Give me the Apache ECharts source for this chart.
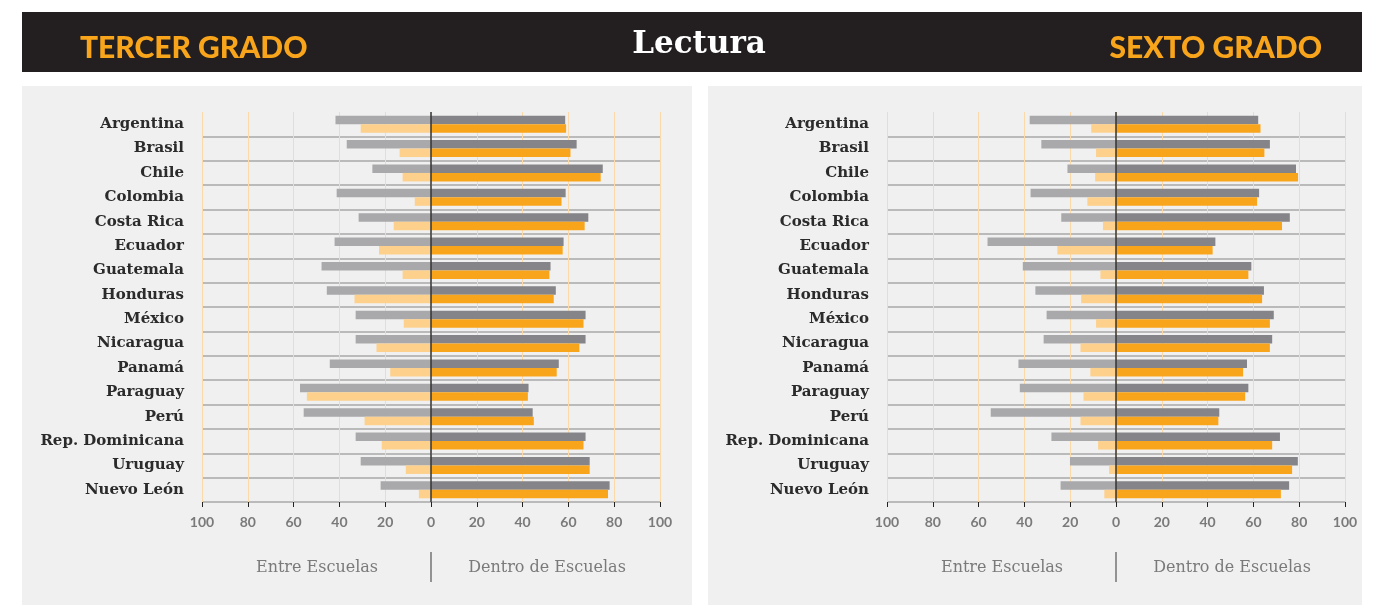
<!DOCTYPE html>
<html lang="es">
<head>
<meta charset="utf-8">
<style>
  html, body { margin: 0; padding: 0; background: #ffffff; }
  #container { width: 1383px; height: 605px; }
</style>
</head>
<body>
<div id="container"></div>
<script src="https://cdn.jsdelivr.net/npm/echarts@6/dist/echarts.min.js"></script>
<script>
var paises = ['Argentina', 'Brasil', 'Chile', 'Colombia', 'Costa Rica', 'Ecuador', 'Guatemala', 'Honduras',
  'México', 'Nicaragua', 'Panamá', 'Paraguay', 'Perú', 'Rep. Dominicana', 'Uruguay', 'Nuevo León'];

// tercer grado
var grisEntre3 = [41.7, 36.8, 25.6, 41.2, 31.6, 42.1, 47.8, 45.5, 32.9, 32.9, 44.2, 57.2, 55.6, 32.9, 30.7, 22.0];
var grisDentro3 = [58.6, 63.6, 75.0, 58.8, 68.7, 57.9, 52.2, 54.5, 67.5, 67.5, 55.8, 42.6, 44.4, 67.5, 69.3, 78.0];
var naranjaEntre3 = [30.7, 13.7, 12.4, 7.1, 16.3, 22.7, 12.4, 33.4, 11.9, 23.8, 17.8, 54.2, 29.0, 21.5, 11.0, 5.3];
var naranjaDentro3 = [59.0, 60.9, 74.1, 57.0, 67.1, 57.5, 51.7, 53.6, 66.6, 64.8, 54.9, 42.3, 44.9, 66.6, 69.3, 77.3];

// sexto grado
var grisEntre6 = [37.7, 32.6, 21.2, 37.3, 23.9, 56.1, 40.7, 35.2, 30.3, 31.6, 42.6, 42.0, 54.7, 28.2, 20.1, 24.2];
var grisDentro6 = [62.1, 67.2, 78.6, 62.5, 75.9, 43.4, 59.1, 64.6, 68.9, 68.2, 57.2, 57.8, 45.1, 71.6, 79.4, 75.6];
var naranjaEntre6 = [10.8, 8.7, 9.1, 12.5, 5.7, 25.6, 6.8, 15.2, 8.7, 15.5, 11.2, 14.2, 15.5, 7.8, 3.0, 5.1];
var naranjaDentro6 = [63.1, 64.8, 79.5, 61.6, 72.5, 42.2, 57.8, 63.8, 67.2, 67.2, 55.5, 56.4, 44.7, 68.2, 76.9, 72.0];

var colGrisClaro = '#a9a9ac', colGrisOscuro = '#858589';
var colNaranja = '#f9a51b', colNaranjaClaro = '#fdd08c';

function neg(arr) { return arr.map(function (v) { return -v; }); }

function barras(idx, entreG, dentroG, entreN, dentroN) {
  function s(data, stack, color) {
    return {
      type: 'bar', xAxisIndex: idx, yAxisIndex: idx, stack: stack + idx,
      data: data, barWidth: 8.5, barGap: '0%', silent: true,
      itemStyle: { color: color }
    };
  }
  var a = s(neg(entreG), 'g', colGrisClaro);
  // linea del cero
  a.markLine = {
    silent: true, symbol: 'none', label: { show: false },
    lineStyle: { color: '#333', width: 1.5, type: 'solid' },
    data: [{ xAxis: 0 }]
  };
  return [a, s(dentroG, 'g', colGrisOscuro), s(neg(entreN), 'n', colNaranjaClaro), s(dentroN, 'n', colNaranja)];
}

function ejeX(idx) {
  return {
    type: 'value', gridIndex: idx, min: -100, max: 100, interval: 20,
    axisLine: { lineStyle: { color: '#222', width: 1.5 } },
    axisTick: { show: true, length: 5, lineStyle: { color: '#222' } },
    axisLabel: {
      color: '#7a7a7a', fontFamily: 'Lato', fontWeight: 'bold', fontSize: 14, margin: 13,
      formatter: function (v) { return Math.abs(v); }
    },
    splitLine: { show: true, lineStyle: { color: '#fbd9a8', width: 1 } }
  };
}

function ejeY(idx) {
  return {
    type: 'category', gridIndex: idx, data: paises, inverse: true,
    axisLine: { show: false }, axisTick: { show: false },
    axisLabel: { color: '#2b2b2b', fontFamily: 'DejaVu Serif', fontWeight: 'bold', fontSize: 15, margin: 18 },
    splitLine: {
      show: true, lineStyle: { color: '#a8a8a8', width: 1.5 },
      interval: function (i) { return i !== 0; }
    }
  };
}

var myChart = echarts.init(document.getElementById('container'), null, { renderer: 'canvas' });

var option = {
  animation: false,
  grid: [
    { left: 202, width: 458, top: 112, height: 390 },
    { left: 887, width: 458, top: 112, height: 390 }
  ],
  xAxis: [ejeX(0), ejeX(1)],
  yAxis: [ejeY(0), ejeY(1)],
  series: barras(0, grisEntre3, grisDentro3, naranjaEntre3, naranjaDentro3)
    .concat(barras(1, grisEntre6, grisDentro6, naranjaEntre6, naranjaDentro6)),
  graphic: [
    { type: 'rect', z: -10, shape: { x: 22, y: 12, width: 1340, height: 60 }, style: { fill: '#231f20' } },
    { type: 'rect', z: -10, shape: { x: 22, y: 86, width: 670, height: 519 }, style: { fill: '#f0f0f0' } },
    { type: 'rect', z: -10, shape: { x: 708, y: 86, width: 654, height: 519 }, style: { fill: '#f0f0f0' } },
    { type: 'text', x: 80, y: 48, style: { text: 'TERCER GRADO', fill: '#f9a51b', font: '900 30px Lato', textVerticalAlign: 'middle' } },
    { type: 'text', x: 1322, y: 48, style: { text: 'SEXTO GRADO', fill: '#f9a51b', font: '900 30px Lato', textAlign: 'right', textVerticalAlign: 'middle' } },
    { type: 'text', x: 699, y: 45, style: { text: 'Lectura', fill: '#ffffff', font: 'bold 31px "DejaVu Serif"', textAlign: 'center', textVerticalAlign: 'middle' } },
    { type: 'text', x: 317, y: 568, style: { text: 'Entre Escuelas', fill: '#7a7a7a', font: '16px "DejaVu Serif"', textAlign: 'center', textVerticalAlign: 'middle' } },
    { type: 'text', x: 547, y: 568, style: { text: 'Dentro de Escuelas', fill: '#7a7a7a', font: '16px "DejaVu Serif"', textAlign: 'center', textVerticalAlign: 'middle' } },
    { type: 'line', shape: { x1: 431, y1: 552, x2: 431, y2: 582 }, style: { stroke: '#555', lineWidth: 1.2 } },
    { type: 'text', x: 1002, y: 568, style: { text: 'Entre Escuelas', fill: '#7a7a7a', font: '16px "DejaVu Serif"', textAlign: 'center', textVerticalAlign: 'middle' } },
    { type: 'text', x: 1232, y: 568, style: { text: 'Dentro de Escuelas', fill: '#7a7a7a', font: '16px "DejaVu Serif"', textAlign: 'center', textVerticalAlign: 'middle' } },
    { type: 'line', shape: { x1: 1116, y1: 552, x2: 1116, y2: 582 }, style: { stroke: '#555', lineWidth: 1.2 } }
  ]
};

myChart.setOption(option);
window.addEventListener('resize', myChart.resize);
</script>
</body>
</html>
